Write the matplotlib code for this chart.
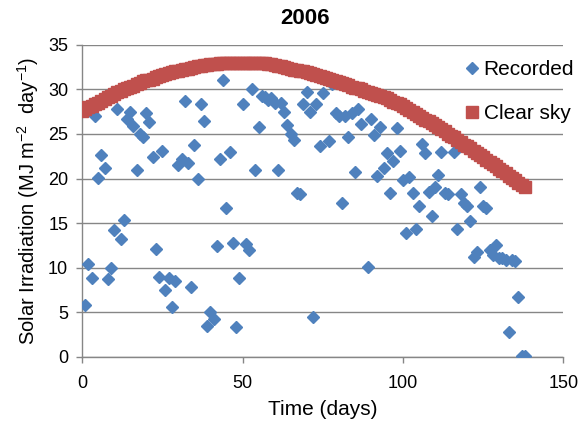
import matplotlib
import matplotlib.pyplot as plt

matplotlib.use('Agg')

plt.rcParams['font.family'] = ['Liberation Sans', 'DejaVu Sans']
plt.rcParams['mathtext.default'] = 'regular'

# recorded daily irradiation
rec_day = [1, 2, 3, 4, 5, 6, 7, 8, 9, 10, 11, 12, 13, 14, 15, 16, 17, 18, 19, 20,
           21, 22, 23, 24, 25, 26, 27, 28, 29, 30, 31, 32, 33, 34, 35, 36, 37, 38, 39, 40,
           41, 42, 43, 44, 45, 46, 47, 48, 49, 50, 51, 52, 53, 54, 55, 56, 57, 58, 59, 60,
           61, 62, 63, 64, 65, 66, 67, 68, 69, 70, 71, 72, 73, 74, 75, 77, 78, 79, 80,
           81, 82, 83, 84, 85, 86, 87, 89, 90, 91, 92, 93, 94, 95, 96, 97, 98, 99, 100,
           101, 102, 103, 104, 105, 106, 107, 108, 109, 110, 111, 112, 113, 114, 116, 117,
           118, 119, 120, 121, 122, 123, 124, 125, 126, 127, 128, 129, 130, 131, 132, 133,
           134, 135, 136, 137, 138]
rec_val = [5.8, 10.4, 8.8, 27.0, 20.1, 22.6, 21.2, 8.7, 10.0, 14.2, 27.8, 13.2, 15.3, 26.7,
           27.5, 25.9, 21.0, 25.0, 24.7, 27.4, 26.3, 22.4, 12.1, 9.0, 23.1, 7.5, 8.8, 5.6,
           8.5, 21.5, 22.2, 28.7, 21.7, 7.8, 23.8, 19.9, 28.3, 26.4, 3.5, 5.0, 4.2, 12.4,
           22.2, 31.0, 16.7, 23.0, 12.8, 3.4, 8.9, 28.3, 12.7, 12.0, 30.0, 20.9, 25.8, 29.2,
           29.1, 28.8, 29.0, 28.5, 20.9, 28.5, 27.5, 26.0, 25.0, 24.3, 18.4, 18.3, 28.3,
           29.7, 27.5, 4.5, 28.3, 23.7, 29.6, 24.2, 30.6, 27.3, 27.0, 17.2, 27.0, 24.7,
           27.3, 20.7, 27.8, 26.1, 10.1, 26.7, 24.9, 20.3, 25.8, 21.2, 22.9, 18.4, 22.0,
           25.7, 23.1, 19.8, 13.9, 20.2, 18.4, 14.3, 16.9, 23.9, 22.9, 18.5, 15.8, 19.1,
           20.4, 23.0, 18.4, 18.3, 23.0, 14.3, 18.3, 17.2, 16.9, 15.2, 11.2, 11.8, 19.1,
           16.9, 16.7, 12.0, 11.4, 12.6, 11.1, 11.1, 10.9, 2.8, 10.9, 10.7, 6.7, 0.1, 0.1]

# clear sky irradiation, days 0..138
clear_day = list(range(139))
clear_val = [27.6, 27.8, 28.0, 28.1, 28.3, 28.5, 28.7, 28.9, 29.1, 29.3,
             29.5, 29.7, 29.8, 30.0, 30.1, 30.3, 30.4, 30.6, 30.7, 30.9,
             31.0, 31.1, 31.2, 31.4, 31.5, 31.6, 31.7, 31.8, 31.9, 32.0,
             32.1, 32.2, 32.3, 32.3, 32.4, 32.5, 32.6, 32.6, 32.7, 32.7,
             32.8, 32.8, 32.8, 32.9, 32.9, 32.9, 32.9, 33.0, 33.0, 33.0,
             33.0, 33.0, 33.0, 33.0, 33.0, 33.0, 32.9, 32.9, 32.8, 32.8,
             32.7, 32.6, 32.6, 32.5, 32.4, 32.3, 32.2, 32.2, 32.1, 32.0,
             31.9, 31.8, 31.7, 31.6, 31.5, 31.4, 31.3, 31.2, 31.1, 30.9,
             30.8, 30.7, 30.6, 30.5, 30.3, 30.2, 30.1, 30.0, 29.8, 29.7,
             29.6, 29.5, 29.4, 29.2, 29.1, 29.0, 28.8, 28.6, 28.5, 28.3,
             28.1, 27.9, 27.7, 27.5, 27.2, 27.0, 26.8, 26.6, 26.4, 26.2,
             26.0, 25.8, 25.5, 25.3, 25.0, 24.8, 24.6, 24.3, 24.1, 23.8,
             23.6, 23.4, 23.1, 22.9, 22.6, 22.4, 22.1, 21.9, 21.6, 21.4,
             21.1, 20.8, 20.6, 20.3, 20.1, 19.8, 19.5, 19.3, 19.0]

x_ticks = [0, 50, 100, 150]
y_ticks = [0, 5, 10, 15, 20, 25, 30, 35]

grey = '#868686'

fig = plt.figure(figsize=(5.82, 4.30), dpi=100)
ax = fig.add_axes([0.141, 0.170, 0.827, 0.726])

ax.plot(rec_day, rec_val, linestyle='none', marker='D', markersize=6.6,
        color='#4F81BD', label='Recorded', zorder=3)
ax.plot(clear_day, clear_val, linestyle='none', marker='s', markersize=8,
        color='#C0504D', label='Clear sky', zorder=4)

ax.set_xlim(0, 150)
ax.set_ylim(0, 35)
ax.set_xticks(x_ticks)
ax.set_yticks(y_ticks)
ax.yaxis.grid(True, color=grey, linewidth=1.0)
ax.set_axisbelow(True)

# only left and bottom axis lines
for side in ['top', 'right']:
    ax.spines[side].set_visible(False)
for side in ['left', 'bottom']:
    ax.spines[side].set_color(grey)
    ax.spines[side].set_linewidth(1.0)
ax.tick_params(axis='both', colors=grey, labelcolor='black', labelsize=13,
               length=4, width=1.0)
ax.tick_params(axis='y', pad=6)
ax.tick_params(axis='x', pad=9)

# chart title sits centred on the chart area, not the plot area
fig.text(305 / 582, 1 - 18 / 430, '2006', fontsize=16, fontweight='bold',
         ha='center', va='center')
ax.set_xlabel('Time (days)', fontsize=15, labelpad=6)
ax.set_ylabel('Solar Irradiation (MJ m$^{-2}$  day$^{-1}$)', fontsize=14.5, labelpad=5)

ax.legend(loc='upper left', bbox_to_anchor=(0.765, 0.99), frameon=False, fontsize=15,
          handletextpad=0.1, labelspacing=1.2, handlelength=0.9, borderaxespad=0.2)

fig.savefig('out.png', dpi=100)
plt.close()
